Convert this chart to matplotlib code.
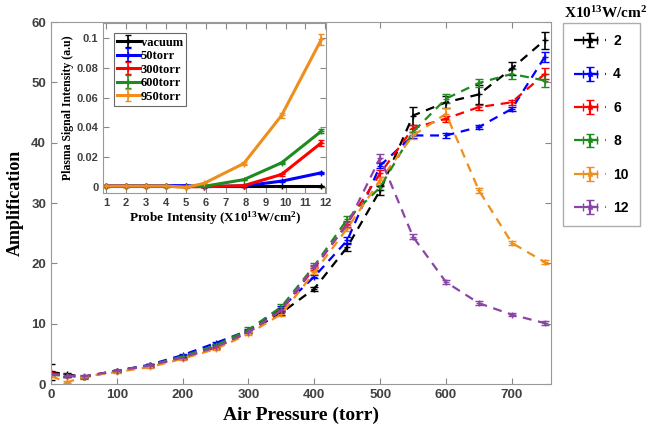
import matplotlib
matplotlib.use("Agg")
import matplotlib.pyplot as plt


# main plot: amplification vs air pressure, one curve per probe intensity
pressure = [0, 25, 50, 100, 150, 200, 250, 300, 350, 400, 450, 500, 550, 600, 650, 700, 750]
intensity_labels = ["2", "4", "6", "8", "10", "12"]

amp_2 = [2.0, 1.6, 1.2, 2.2, 3.1, 4.5, 6.2, 8.7, 11.8, 15.8, 22.7, 32.1, 44.5, 46.7, 48.0, 52.3, 57.0]
amp_4 = [1.7, 1.4, 1.2, 2.2, 3.2, 4.8, 6.8, 8.9, 12.6, 17.8, 23.8, 36.2, 41.2, 41.2, 42.6, 45.6, 54.2]
amp_6 = [1.8, 1.4, 1.2, 2.2, 3.0, 4.4, 6.0, 8.6, 12.3, 19.2, 26.6, 34.9, 42.4, 44.0, 45.9, 46.7, 51.4]
amp_8 = [1.5, 1.4, 1.1, 2.2, 3.1, 4.6, 6.4, 9.0, 12.8, 19.6, 27.3, 32.6, 41.8, 47.3, 49.9, 51.4, 50.3]
amp_10 = [1.3, 0.3, 1.2, 2.0, 2.8, 4.2, 5.8, 8.3, 11.6, 18.5, 25.8, 33.8, 41.2, 44.8, 32.1, 23.4, 20.2]
amp_12 = [1.6, 1.4, 1.3, 2.2, 3.1, 4.4, 6.1, 8.6, 12.2, 19.5, 26.4, 37.5, 24.4, 16.9, 13.4, 11.5, 10.1]

err_2 = [1.3, 0.2, 0.2, 0.2, 0.2, 0.2, 0.2, 0.2, 0.3, 0.3, 0.6, 0.8, 1.5, 1.0, 1.6, 1.0, 1.4]
err_4 = [0.2, 0.2, 0.2, 0.2, 0.2, 0.2, 0.2, 0.2, 0.3, 0.3, 0.6, 0.4, 0.5, 0.4, 0.3, 0.4, 0.8]
err_6 = [0.3, 0.2, 0.2, 0.2, 0.2, 0.2, 0.2, 0.2, 0.3, 0.3, 0.5, 0.6, 0.6, 0.5, 0.4, 0.4, 0.9]
err_8 = [0.2, 0.2, 0.2, 0.2, 0.2, 0.2, 0.2, 0.4, 0.4, 0.4, 0.5, 0.4, 0.5, 0.7, 0.7, 0.8, 1.1]
err_10 = [0.2, 0.2, 0.2, 0.2, 0.2, 0.2, 0.2, 0.2, 0.3, 0.3, 0.5, 0.5, 0.6, 1.0, 0.4, 0.3, 0.3]
err_12 = [0.2, 0.2, 0.2, 0.2, 0.2, 0.2, 0.2, 0.2, 0.3, 0.3, 0.5, 0.7, 0.4, 0.3, 0.3, 0.3, 0.3]

# inset: plasma signal vs probe intensity
probe = [1, 2, 3, 4, 5, 5.9, 7.9, 9.8, 11.8]
inset_labels = ["vacuum", "50torr", "300torr", "600torr", "950torr"]
sig_vacuum = [0.0005, 0.0005, 0.0005, 0.0005, 0.0005, 0.0005, 0.0005, 0.0005, 0.0005]
sig_50 = [0.001, 0.001, 0.001, 0.001, 0.001, 0.0003, 0.0008, 0.004, 0.0096]
sig_300 = [0.0005, 0.0005, 0.0005, 0.0005, 0.0003, 0.0003, 0.001, 0.0085, 0.0297]
sig_600 = [0.0005, 0.0005, 0.0005, 0.0005, 0.0003, 0.0005, 0.005, 0.0163, 0.0375]
sig_950 = [0.0008, 0.0008, 0.0008, 0.0008, -0.0002, 0.0025, 0.0158, 0.048, 0.099]
sig_err_50 = [0.0004, 0.0004, 0.0004, 0.0004, 0.0004, 0.0004, 0.0004, 0.0006, 0.0008]
sig_err_300 = [0.0004, 0.0004, 0.0004, 0.0004, 0.0004, 0.0004, 0.0004, 0.0008, 0.002]
sig_err_600 = [0.0004, 0.0004, 0.0004, 0.0004, 0.0004, 0.0004, 0.0005, 0.0008, 0.0015]
sig_err_950 = [0.0004, 0.0004, 0.0004, 0.0004, 0.0004, 0.0006, 0.0008, 0.0015, 0.0035]

colors = ["black", "#0000ff", "#ff0000", "#1f8a20", "#ee8e1c", "#8a45a6"]
inset_colors = ["black", "#0000ff", "#ff0000", "#1f8a20", "#ee8e1c"]

plt.rcParams["mathtext.default"] = "regular"
serif = "Liberation Serif"
sans = "Liberation Sans"
tick_color = "#404040"


def style_axes(ax, size):
    ax.tick_params(direction="in", top=True, right=True, colors="#888888",
                   labelcolor=tick_color, labelsize=size, length=4)
    for lab in ax.get_xticklabels() + ax.get_yticklabels():
        lab.set_fontfamily(sans)
        lab.set_fontweight("bold")
    for sp in ax.spines.values():
        sp.set_color("#999999")


def draw_main(fig):
    ax = fig.add_axes([0.0763, 0.111, 0.749, 0.838])
    series = [amp_2, amp_4, amp_6, amp_8, amp_10, amp_12]
    errors = [err_2, err_4, err_6, err_8, err_10, err_12]
    for vals, err, c in zip(series, errors, colors):
        ax.errorbar(pressure, vals, yerr=err, color=c, ls=(0, (4, 3)), lw=1.6,
                    marker="+", ms=5, capsize=3, elinewidth=1.2)
    ax.set_xlim(0, 760)
    ax.set_ylim(0, 60)
    ax.set_xticks(range(0, 701, 100))
    ax.set_yticks(range(0, 61, 10))
    style_axes(ax, 9.5)
    ax.set_xlabel("Air Pressure (torr)", family=serif, weight="bold", fontsize=14, labelpad=4)
    ax.set_ylabel("Amplification", family=serif, weight="bold", fontsize=13, labelpad=5)

    # legend proxies with both error bars, like the original
    handles = []
    for c in colors:
        h = ax.errorbar([float("nan")], [float("nan")], xerr=[1], yerr=[1], color=c,
                        ls=(0, (4, 3)), lw=1.6, marker="*", ms=4, capsize=3)
        handles.append(h)
    leg = fig.legend(handles, intensity_labels, loc="upper left",
                     bbox_to_anchor=(0.843, 0.947), frameon=True, fancybox=False,
                     edgecolor="#999999", handlelength=2.3, handletextpad=0.5,
                     labelspacing=1.4, borderpad=0.8, borderaxespad=0,
                     prop={"family": sans, "weight": "bold", "size": 10})
    leg.get_frame().set_linewidth(1.0)
    fig.text(0.845, 0.958, "X10$^{13}$W/cm$^{2}$", family=serif, weight="bold", fontsize=11)


def draw_inset(fig):
    ax = fig.add_axes([0.1546, 0.553, 0.334, 0.394])
    series = [sig_vacuum, sig_50, sig_300, sig_600, sig_950]
    errors = [[0.0002] * len(probe), sig_err_50, sig_err_300, sig_err_600, sig_err_950]
    for vals, err, c, lab in zip(series, errors, inset_colors, inset_labels):
        ax.errorbar(probe, vals, yerr=err, color=c, lw=2.2, marker="+", ms=4,
                    capsize=2, elinewidth=1.2, label=lab)
    ax.set_xlim(0.85, 12.05)
    ax.set_ylim(-0.004, 0.11)
    ax.set_xticks(range(1, 13))
    ax.set_yticks([0, 0.02, 0.04, 0.06, 0.08, 0.1])
    ax.set_yticklabels(["0", "0.02", "0.04", "0.06", "0.08", "0.1"])
    style_axes(ax, 8)
    ax.set_xlabel("Probe Intensity (X10$^{13}$W/cm$^{2}$)", family=serif, weight="bold",
                  fontsize=9.5, labelpad=1)
    ax.set_ylabel("Plasma Signal Intensity (a.u)", family=serif, weight="bold",
                  fontsize=8.5, labelpad=2)
    leg = ax.legend(loc="upper left", bbox_to_anchor=(0.02, 0.975), fancybox=False,
                    edgecolor="#444444", handlelength=1.8, handletextpad=0.1,
                    labelspacing=0.12, borderpad=0.25,
                    prop={"family": serif, "weight": "bold", "size": 9})
    leg.get_frame().set_linewidth(0.8)


if __name__ == "__main__":
    fig = plt.figure(figsize=(6.68, 4.32), dpi=100)
    draw_main(fig)
    draw_inset(fig)
    fig.savefig("out.png", dpi=100)
